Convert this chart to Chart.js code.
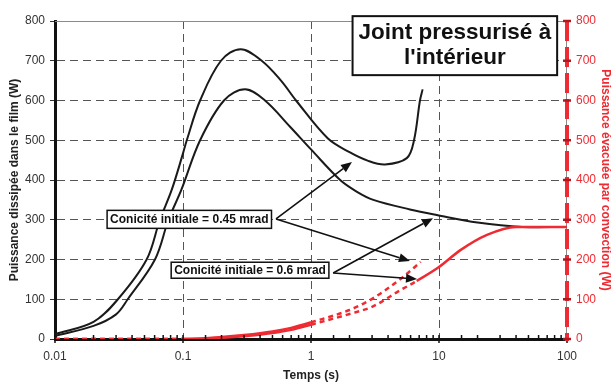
<!DOCTYPE html>
<html>
<head>
<meta charset="utf-8">
<script src="https://cdn.jsdelivr.net/npm/chart.js@4.4.1/dist/chart.umd.min.js"></script>
<style>
  html, body { margin: 0; padding: 0; background: #fff; }
  #wrap { width: 613px; height: 383px; }
</style>
</head>
<body>
<div id="wrap"><canvas id="chart" width="613" height="383"></canvas></div>
<script>
// Puissance dissipée dans le film (axe gauche)
const tempsFilm045 = [0.01, 0.02, 0.031, 0.052, 0.066, 0.0816, 0.1, 0.107, 0.136, 0.198, 0.282, 0.412, 0.583, 0.764, 1.35, 2, 2.8, 3.79, 5.6, 6.38, 7.1, 7.45];
const film045      = [12, 43, 100, 200, 300, 375, 467, 500, 600, 700, 729, 700, 650, 600, 505, 470, 448, 439, 455, 500, 600, 628];
const tempsFilm06  = [0.01, 0.02, 0.03, 0.037, 0.0604, 0.077, 0.097, 0.136, 0.209, 0.305, 0.437, 0.686, 1, 1.69, 2.27, 3.07, 5.93, 9.6, 20, 45, 100];
const film06       = [8, 33, 62, 100, 200, 300, 375, 500, 600, 628, 600, 534, 477, 400, 371, 350, 326, 312, 293, 282, 282];

// Puissance évacuée par convection (axe droit)
const tempsConv045 = [0.01, 0.05, 0.1, 0.2, 0.3, 0.5, 0.7, 1, 2, 3, 5, 7.2];
const conv045      = [0, 0, 0, 5, 10, 19, 28, 42, 73, 101, 151, 194];
const tempsConv06  = [0.01, 0.05, 0.1, 0.2, 0.3, 0.5, 0.7, 1, 2, 3, 5, 6.7, 10, 14.6, 23.7, 40, 100];
const conv06       = [0, 0, 0, 3, 7, 15, 23, 36, 63, 81, 123, 146, 181, 223, 262, 282, 282];

const xTickLabels = ['0.01', '0.1', '1', '10', '100'];

Chart.defaults.font.family = "'Liberation Sans', Arial, sans-serif";

const RED = '#ee2b32';
const isDecade = v => { const l = Math.log10(v); return Math.abs(l - Math.round(l)) < 1e-9; };
const pts = (t, v) => t.map((x, i) => ({ x: x, y: v[i] }));

function arrow(ctx, x0, y0, x1, y1) {
  const a = Math.atan2(y1 - y0, x1 - x0), L = 11, W = 4.5;
  const bx = x1 - L * Math.cos(a), by = y1 - L * Math.sin(a);
  ctx.beginPath(); ctx.moveTo(x0, y0); ctx.lineTo(bx, by); ctx.stroke();
  ctx.beginPath();
  ctx.moveTo(x1, y1);
  ctx.lineTo(bx + W * Math.sin(a), by - W * Math.cos(a));
  ctx.lineTo(bx - W * Math.sin(a), by + W * Math.cos(a));
  ctx.closePath(); ctx.fill();
}

function textBox(ctx, cx, cy, lines, size, lineH, padX, padY, bw) {
  ctx.font = 'bold ' + size + "px 'Liberation Sans', Arial, sans-serif";
  const w = Math.max(...lines.map(s => ctx.measureText(s).width)) + 2 * padX;
  const h = lines.length * lineH + 2 * padY;
  ctx.fillStyle = '#fff';
  ctx.fillRect(cx - w / 2, cy - h / 2, w, h);
  ctx.lineWidth = bw; ctx.strokeStyle = '#111';
  ctx.strokeRect(cx - w / 2, cy - h / 2, w, h);
  ctx.fillStyle = '#111'; ctx.textAlign = 'center'; ctx.textBaseline = 'middle';
  lines.forEach((s, i) => ctx.fillText(s, cx, cy - h / 2 + padY + lineH * (i + 0.5)));
}

const decorations = {
  id: 'decorations',
  beforeDatasetsDraw(chart) {
    const { ctx, chartArea: a } = chart;
    ctx.save();
    ctx.strokeStyle = '#8a8a8a'; ctx.lineWidth = 1;
    ctx.beginPath();
    ctx.moveTo(a.left, a.top + 0.5); ctx.lineTo(a.right, a.top + 0.5);
    ctx.moveTo(a.right - 0.5, a.top); ctx.lineTo(a.right - 0.5, a.bottom);
    ctx.stroke();
    ctx.restore();
  },
  afterDraw(chart) {
    const { ctx, chartArea: a, scales } = chart;
    const X = v => scales.x.getPixelForValue(v);
    const Y = v => scales.y.getPixelForValue(v);
    ctx.save();
    // petites graduations de l'axe des temps
    ctx.strokeStyle = '#111'; ctx.lineWidth = 1.5;
    scales.x.ticks.forEach(t => {
      const px = X(t.value);
      ctx.beginPath();
      ctx.moveTo(px, a.bottom - 4);
      ctx.lineTo(px, a.bottom + (isDecade(t.value) ? 4 : 0));
      ctx.stroke();
    });
    // axe droit rouge en tirets
    ctx.strokeStyle = RED; ctx.lineWidth = 4; ctx.setLineDash([20, 6]);
    ctx.beginPath(); ctx.moveTo(a.right, a.top); ctx.lineTo(a.right, a.bottom + 2); ctx.stroke();
    ctx.setLineDash([]);
    ctx.strokeStyle = '#b01820'; ctx.lineWidth = 2.5;
    scales.y2.ticks.forEach(t => {
      const py = scales.y2.getPixelForValue(t.value);
      ctx.beginPath(); ctx.moveTo(a.right - 4, py); ctx.lineTo(a.right + 4, py); ctx.stroke();
    });
    // flèches
    ctx.strokeStyle = '#111'; ctx.fillStyle = '#111'; ctx.lineWidth = 1.6;
    arrow(ctx, X(0.533), Y(302), X(2.09), Y(445));
    arrow(ctx, X(0.533), Y(302), X(5.93), Y(196));
    arrow(ctx, X(1.49), Y(166), X(8.98), Y(304));
    arrow(ctx, X(1.49), Y(166), X(6.73), Y(151));
    // encadrés
    textBox(ctx, X(13.3), Y(738), ["Joint pressurisé à", "l'intérieur"], 22.5, 25, 6, 4.5, 2);
    textBox(ctx, X(0.112), Y(301), ['Conicité initiale = 0.45 mrad'], 12, 14, 3, 2, 1.5);
    textBox(ctx, X(0.334), Y(173), ['Conicité initiale = 0.6 mrad'], 12, 14, 3, 1, 1.5);
    ctx.restore();
  }
};

const dashRed045 = ctx => (ctx.p0.parsed.x < 0.1 || ctx.p0.parsed.x >= 1) ? [5, 4] : undefined;
const dashRed06 = ctx => (ctx.p0.parsed.x < 0.1 || (ctx.p0.parsed.x >= 1 && ctx.p0.parsed.x < 6.7)) ? [5, 4] : undefined;

new Chart(document.getElementById('chart').getContext('2d'), {
  type: 'line',
  data: {
    datasets: [
      { label: 'Convection 0.45 mrad', data: pts(tempsConv045, conv045), yAxisID: 'y2', order: 0,
        borderColor: RED, borderWidth: 2.5, pointRadius: 0, cubicInterpolationMode: 'monotone',
        segment: { borderDash: dashRed045 } },
      { label: 'Convection 0.6 mrad', data: pts(tempsConv06, conv06), yAxisID: 'y2', order: 0,
        borderColor: RED, borderWidth: 2.5, pointRadius: 0, cubicInterpolationMode: 'monotone',
        segment: { borderDash: dashRed06 } },
      { label: 'Film 0.45 mrad', data: pts(tempsFilm045, film045), yAxisID: 'y', order: 1,
        borderColor: '#1a1a1a', borderWidth: 2, pointRadius: 0, tension: 0.35 },
      { label: 'Film 0.6 mrad', data: pts(tempsFilm06, film06), yAxisID: 'y', order: 1,
        borderColor: '#1a1a1a', borderWidth: 2, pointRadius: 0, tension: 0.35 }
    ]
  },
  options: {
    responsive: false,
    animation: false,
    devicePixelRatio: 1,
    layout: { padding: { top: 21, left: 0, right: 0, bottom: 0 } },
    plugins: { legend: { display: false }, tooltip: { enabled: false } },
    scales: {
      x: {
        type: 'logarithmic', min: 0.01, max: 100,
        border: { color: '#111', width: 3, dash: [8, 5] },
        grid: {
          drawTicks: false, lineWidth: 1,
          color: c => (c.tick && isDecade(c.tick.value) && c.tick.value > 0.011 && c.tick.value < 99) ? '#555' : 'rgba(0,0,0,0)'
        },
        ticks: {
          autoSkip: false, maxRotation: 0, padding: 10, color: '#333', font: { size: 12 },
          callback: v => isDecade(v) ? xTickLabels[Math.round(Math.log10(v)) + 2] : ''
        },
        title: { display: true, text: 'Temps (s)', color: '#222', font: { size: 12, weight: 'bold' }, padding: { top: 0, bottom: 0 } },
        afterFit: s => { s.height = 44; }
      },
      y: {
        position: 'left', min: 0, max: 800,
        border: { color: '#111', width: 3, dash: [8, 5] },
        grid: {
          tickLength: 5, tickColor: '#333', lineWidth: 1,
          color: c => (c.tick && c.tick.value > 0 && c.tick.value < 800) ? '#555' : 'rgba(0,0,0,0)'
        },
        ticks: { stepSize: 100, padding: 5, color: '#333', font: { size: 12 } },
        title: { display: true, text: 'Puissance dissipée dans le film (W)', color: '#222', font: { size: 12, weight: 'bold' }, padding: { top: 7, bottom: 0 } },
        afterFit: s => { s.width = 55; }
      },
      y2: {
        position: 'right', min: 0, max: 800,
        border: { display: false },
        grid: { display: false, drawTicks: false, tickLength: 0 },
        ticks: { stepSize: 100, padding: 9, color: RED, font: { size: 12 } },
        title: { display: true, text: 'Puissance évacuée par convection (W)', color: RED, font: { size: 12, weight: 'bold' }, padding: { top: 0, bottom: 0 } },
        afterFit: s => { s.width = 46; }
      }
    }
  },
  plugins: [decorations]
});
</script>
</body>
</html>
